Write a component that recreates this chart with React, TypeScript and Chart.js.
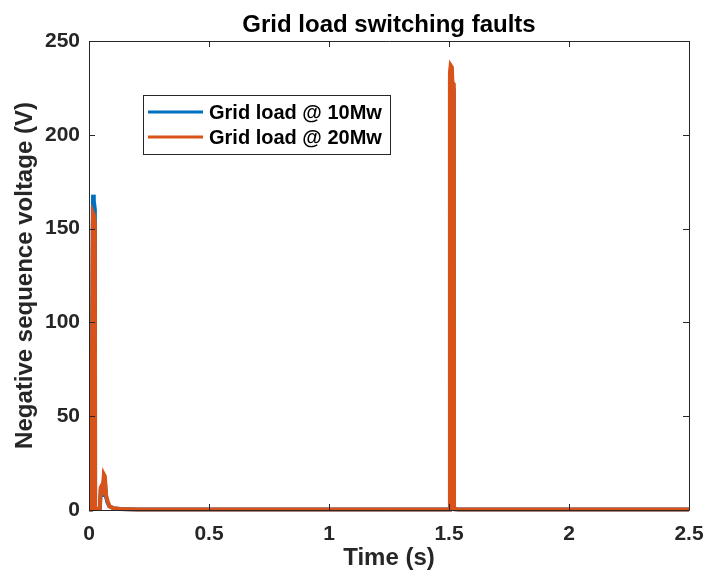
import React, { useEffect, useRef } from "react";
import { Chart, registerables } from "chart.js";

Chart.register(...registerables);

const chartTitle = "Grid load switching faults";
const xAxisTitle = "Time (s)";
const yAxisTitle = "Negative sequence voltage (V)";
const seriesNames = ["Grid load @ 10Mw", "Grid load @ 20Mw"];
const seriesColors = ["#0072BD", "#D95319"];

const xTicks = [0, 0.5, 1, 1.5, 2, 2.5];
const yTicks = [0, 50, 100, 150, 200, 250];

// Grid load @ 10Mw
const time10 = [0, 0.009, 0.016, 0.017, 0.02, 0.0245, 0.0255, 0.045, 0.049, 0.053, 0.057, 0.062, 0.066, 0.071, 0.077, 0.085, 0.1, 0.13, 0.2, 0.5, 1.0, 1.503, 1.504, 1.507, 1.512, 1.514, 1.52, 1.521, 1.54, 2.0, 2.5];
const volt10 = [0.3, 0.3, 160, 168, 165, 160, 0.5, 0.5, 11, 12, 7, 17, 16, 7, 4, 2, 1, 0.5, 0.3, 0.3, 0.3, 0.3, 230, 234, 233, 225, 224, 0.5, 0.3, 0.3, 0.3];

// Grid load @ 20Mw
const time20 = [0, 0.009, 0.016, 0.017, 0.02, 0.0245, 0.0255, 0.045, 0.049, 0.053, 0.057, 0.062, 0.066, 0.071, 0.077, 0.085, 0.1, 0.13, 0.2, 0.5, 1.0, 1.503, 1.504, 1.507, 1.512, 1.514, 1.52, 1.521, 1.54, 2.0, 2.5];
const volt20 = [0.3, 0.3, 152, 158, 157, 152, 0.5, 0.5, 12, 13, 8, 19, 18, 8, 5, 2, 1, 0.5, 0.3, 0.3, 0.3, 0.3, 233, 237, 236, 228, 227, 0.5, 0.3, 0.3, 0.3];

const AX = "#262626";
const FONT = "'Liberation Sans', Arial, sans-serif";

const decorPlugin = {
  id: "decor",
  afterDraw(chart: any) {
    const { ctx, chartArea } = chart;
    const { left, right, top, bottom } = chartArea;
    const xs = chart.scales.x;
    const ys = chart.scales.y;
    ctx.save();
    // box
    ctx.strokeStyle = AX;
    ctx.lineWidth = 1;
    ctx.beginPath();
    ctx.rect(Math.round(left) + 0.5, Math.round(top) + 0.5, Math.round(right - left), Math.round(bottom - top));
    ctx.stroke();
    // inward ticks
    const tl = 6;
    ctx.beginPath();
    xTicks.forEach((v) => {
      const px = Math.round(xs.getPixelForValue(v)) + 0.5;
      ctx.moveTo(px, bottom);
      ctx.lineTo(px, bottom - tl);
      ctx.moveTo(px, top);
      ctx.lineTo(px, top + tl);
    });
    yTicks.forEach((v) => {
      const py = Math.round(ys.getPixelForValue(v)) + 0.5;
      ctx.moveTo(left, py);
      ctx.lineTo(left + tl, py);
      ctx.moveTo(right, py);
      ctx.lineTo(right - tl, py);
    });
    ctx.stroke();

    // title
    ctx.fillStyle = "#000";
    ctx.font = `bold 24px ${FONT}`;
    ctx.textAlign = "center";
    ctx.textBaseline = "alphabetic";
    ctx.fillText(chartTitle, (left + right) / 2, 32);

    // x title
    ctx.fillStyle = AX;
    ctx.fillText(xAxisTitle, (left + right) / 2, 565);

    // y title
    ctx.save();
    ctx.translate(32, (top + bottom) / 2);
    ctx.rotate(-Math.PI / 2);
    ctx.fillText(yAxisTitle, 0, 0);
    ctx.restore();

    // legend
    const lx = 143, ly = 95, lw = 247, lh = 59;
    ctx.fillStyle = "#fff";
    ctx.fillRect(lx, ly, lw, lh);
    ctx.strokeStyle = AX;
    ctx.lineWidth = 1;
    ctx.strokeRect(lx + 0.5, ly + 0.5, lw, lh);
    const rows = [112, 137];
    ctx.font = `bold 20px ${FONT}`;
    ctx.textAlign = "left";
    ctx.textBaseline = "middle";
    rows.forEach((ry, i) => {
      ctx.strokeStyle = seriesColors[i];
      ctx.lineWidth = 3;
      ctx.beginPath();
      ctx.moveTo(148, ry);
      ctx.lineTo(203, ry);
      ctx.stroke();
      ctx.fillStyle = "#000";
      ctx.fillText(seriesNames[i], 209, ry + 1);
    });
    ctx.restore();
  },
};

export default function App() {
  const ref = useRef<HTMLCanvasElement>(null);
  useEffect(() => {
    if (!ref.current) return;
    const mk = (t: number[], v: number[]) => t.map((x, i) => ({ x, y: v[i] }));
    const chart = new Chart(ref.current, {
      type: "line",
      data: {
        datasets: [
          {
            label: seriesNames[0],
            data: mk(time10, volt10),
            borderColor: seriesColors[0],
            backgroundColor: seriesColors[0],
            borderWidth: 4,
            pointRadius: 0,
            tension: 0,
            order: 1,
            clip: 4,
          },
          {
            label: seriesNames[1],
            data: mk(time20, volt20),
            borderColor: seriesColors[1],
            backgroundColor: seriesColors[1],
            borderWidth: 4,
            pointRadius: 0,
            tension: 0,
            order: 0,
            clip: 4,
          },
        ],
      },
      options: {
        animation: false,
        responsive: false,
        devicePixelRatio: 1,
        layout: { padding: { top: 41, right: 17, left: 0, bottom: 0 } },
        plugins: { legend: { display: false }, title: { display: false }, tooltip: { enabled: false } },
        scales: {
          x: {
            type: "linear",
            min: 0,
            max: 2.5,
            afterFit: (s: any) => { s.height = 70; s.paddingLeft = 0; s.paddingRight = 0; },
            afterBuildTicks: (s: any) => { s.ticks = xTicks.map((v) => ({ value: v })); },
            grid: { display: false, drawTicks: false },
            border: { display: false },
            ticks: {
              padding: 12,
              color: AX,
              font: { family: FONT, size: 21, weight: "bold" },
              maxRotation: 0,
              callback: (v: any) => String(v),
            },
          },
          y: {
            type: "linear",
            min: 0,
            max: 250,
            afterFit: (s: any) => { s.width = 89; s.paddingTop = 0; s.paddingBottom = 0; },
            afterBuildTicks: (s: any) => { s.ticks = yTicks.map((v) => ({ value: v })); },
            grid: { display: false, drawTicks: false },
            border: { display: false },
            ticks: {
              padding: 9,
              color: AX,
              font: { family: FONT, size: 21, weight: "bold" },
              callback: (v: any) => String(v),
            },
          },
        },
      },
      plugins: [decorPlugin],
    });
    return () => chart.destroy();
  }, []);
  return (
    <div style={{ position: "absolute", left: 0, top: 0, width: 706, height: 580, background: "#fff" }}>
      <canvas ref={ref} width={706} height={580} style={{ width: 706, height: 580, display: "block" }} />
    </div>
  );
}
